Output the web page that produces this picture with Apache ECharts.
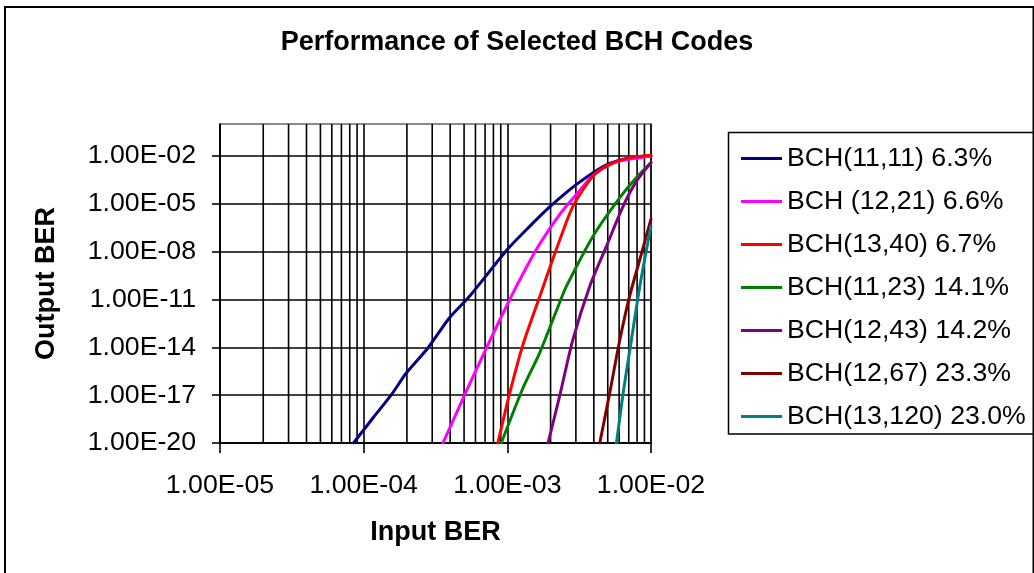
<!DOCTYPE html>
<html>
<head>
<meta charset="utf-8">
<script src="https://cdn.jsdelivr.net/npm/echarts@6/dist/echarts.min.js"></script>
<style>
  html, body { margin: 0; padding: 0; background: #ffffff; }
  #chart { width: 1034px; height: 573px; }
</style>
</head>
<body>
<div id="chart"></div>
<script>
// ---- Data: input BER (x) vs. output BER (y) for each BCH code ----
const seriesNames = [
  'BCH(11,11) 6.3%',
  'BCH (12,21) 6.6%',
  'BCH(13,40) 6.7%',
  'BCH(11,23) 14.1%',
  'BCH(12,43) 14.2%',
  'BCH(12,67) 23.3%',
  'BCH(13,120) 23.0%'
];
const seriesColors = ['#000080', '#FF00FF', '#FF0000', '#008000', '#800080', '#800000', '#008080'];

const bch11_11_in  = [8.5e-5, 1.16e-4, 1.56e-4, 1.98e-4, 2.8e-4, 3.96e-4, 5.46e-4, 1.0e-3, 1.43e-3, 1.97e-3, 2.58e-3, 3.03e-3, 3.95e-3, 5.16e-3, 6.7e-3, 1.0e-2];
const bch11_11_out = [1e-20, 3.7e-19, 1.07e-17, 2.45e-16, 9.1e-15, 7.1e-13, 1.6e-11, 1.35e-8, 3.8e-7, 6.3e-6, 5.2e-5, 1.64e-4, 8.9e-4, 3.4e-3, 6.7e-3, 1.05e-2];

const bch12_21_in  = [3.56e-4, 4.07e-4, 4.91e-4, 5.46e-4, 7.33e-4, 1.04e-3, 1.355e-3, 1.68e-3, 2.31e-3, 3.03e-3, 3.95e-3, 5.45e-3, 7.1e-3, 1.0e-2];
const bch12_21_out = [1e-20, 1.4e-19, 6.0e-18, 4.9e-17, 1.48e-14, 1.0e-11, 1.0e-9, 3.0e-8, 2.1e-6, 3.9e-5, 6.0e-4, 3.5e-3, 6.3e-3, 1.0e-2];

const bch13_40_in  = [8.59e-4, 1.04e-3, 1.285e-3, 1.68e-3, 2.08e-3, 2.31e-3, 2.86e-3, 3.95e-3, 5.16e-3, 7.1e-3, 1.0e-2];
const bch13_40_out = [1e-20, 1.38e-17, 1.48e-14, 1.5e-11, 3.7e-9, 5.0e-8, 6.8e-6, 5.5e-4, 2.95e-3, 7.8e-3, 1.05e-2];

const bch11_23_in  = [9.08e-4, 1.285e-3, 1.68e-3, 2.31e-3, 2.58e-3, 3.95e-3, 6.07e-3, 7.93e-3, 1.0e-2];
const bch11_23_out = [1e-20, 2.8e-17, 4.5e-15, 6.2e-12, 6.8e-11, 9.3e-8, 2.4e-5, 4.4e-4, 3.8e-3];

const bch12_43_in  = [1.92e-3, 2.31e-3, 2.86e-3, 3.75e-3, 4.9e-3, 6.4e-3, 7.93e-3, 1.0e-2];
const bch12_43_out = [1e-20, 8.5e-18, 3.0e-14, 6.8e-11, 2.2e-8, 7.1e-6, 2.6e-4, 3.8e-3];

const bch12_67_in  = [4.4e-3, 5.16e-3, 6.07e-3, 7.1e-3, 8.36e-3, 1.0e-2];
const bch12_67_out = [1e-20, 1.38e-17, 3.0e-14, 1.6e-11, 3.2e-9, 1.1e-6];

const bch13_120_in  = [5.75e-3, 6.4e-3, 7.31e-3, 8.36e-3, 1.0e-2];
const bch13_120_out = [1e-20, 1.38e-17, 3.0e-14, 6.8e-11, 4.0e-7];

// ---- Axis ranges and ticks ----
const xRange = [1e-5, 1e-2];
const yRange = [1e-20, 1];
const xTickValues = [1e-5, 1e-4, 1e-3, 1e-2];
const yTickValues = [1e-20, 1e-17, 1e-14, 1e-11, 1e-8, 1e-5, 1e-2];
// minor vertical grid lines (2..9 within each decade)
const xMinorGrid = [
  2e-5, 3e-5, 4e-5, 5e-5, 6e-5, 7e-5, 8e-5, 9e-5,
  2e-4, 3e-4, 4e-4, 5e-4, 6e-4, 7e-4, 8e-4, 9e-4,
  2e-3, 3e-3, 4e-3, 5e-3, 6e-3, 7e-3, 8e-3, 9e-3
];

const curves = [
  [bch11_11_in, bch11_11_out],
  [bch12_21_in, bch12_21_out],
  [bch13_40_in, bch13_40_out],
  [bch11_23_in, bch11_23_out],
  [bch12_43_in, bch12_43_out],
  [bch12_67_in, bch12_67_out],
  [bch13_120_in, bch13_120_out]
];

const FONT = '"Liberation Sans", Arial, Helvetica, sans-serif';
const FS = 26.7;
const GRID_W = 1.6;

// Excel-style scientific notation, e.g. 1.00E-05
function sci(v) {
  const e = Math.round(Math.log10(v));
  const m = v / Math.pow(10, e);
  const a = Math.abs(e);
  return m.toFixed(2) + 'E' + (e < 0 ? '-' : '+') + (a < 10 ? '0' + a : String(a));
}

// minor grid as one broken polyline: bottom-to-top at each minor value, gaps between
const minorGridData = [];
xMinorGrid.forEach(function (v) {
  minorGridData.push([v, yRange[0]], [v, yRange[1]], '-');
});

const series = [{
  name: 'minor-grid',
  type: 'line',
  data: minorGridData,
  connectNulls: false,
  showSymbol: false,
  symbol: 'none',
  silent: true,
  z: 1,
  lineStyle: { color: '#000000', width: GRID_W },
  emphasis: { disabled: true },
  tooltip: { show: false }
}];

curves.forEach(function (c, i) {
  series.push({
    name: seriesNames[i],
    type: 'line',
    data: c[0].map(function (x, k) { return [x, c[1][k]]; }),
    showSymbol: false,
    symbol: 'none',
    smooth: 0.25,
    clip: true,
    z: 3,
    lineStyle: { color: seriesColors[i], width: 3, join: 'round', cap: 'round' },
    itemStyle: { color: seriesColors[i] },
    emphasis: { disabled: true }
  });
});

const chart = echarts.init(document.getElementById('chart'), null, { renderer: 'canvas' });

chart.setOption({
  animation: false,
  backgroundColor: '#ffffff',
  textStyle: { fontFamily: FONT },
  title: {
    text: 'Performance of Selected BCH Codes',
    left: 'center',
    top: 29,
    padding: 0,
    textStyle: { fontFamily: FONT, fontSize: 27, fontWeight: 'bold', color: '#000000' }
  },
  legend: {
    orient: 'vertical',
    left: 741,
    top: 145,
    padding: 0,
    itemGap: 16,
    itemWidth: 41,
    itemHeight: 3,
    icon: 'rect',
    selectedMode: false,
    data: seriesNames,
    textStyle: { fontFamily: FONT, fontSize: FS, color: '#000000', lineHeight: 27 }
  },
  graphic: [
    {
      type: 'rect',
      silent: true,
      shape: { x: 5, y: 7, width: 1028.5, height: 620 },
      style: { fill: 'none', stroke: '#000000', lineWidth: 2 }
    },
    {
      type: 'rect',
      silent: true,
      shape: { x: 728.5, y: 132.5, width: 330, height: 301.5 },
      style: { fill: 'none', stroke: '#000000', lineWidth: 1.5 }
    }
  ],
  grid: {
    left: 220,
    top: 124,
    width: 431,
    height: 319,
    show: true,
    backgroundColor: '#ffffff',
    borderColor: '#8a8a8a',
    borderWidth: 2
  },
  xAxis: {
    type: 'log',
    logBase: 10,
    min: xRange[0],
    max: xRange[1],
    name: 'Input BER',
    nameLocation: 'middle',
    nameGap: 76,
    nameTextStyle: { fontFamily: FONT, fontSize: 27, fontWeight: 'bold', color: '#000000' },
    axisLine: { show: true, onZero: false, lineStyle: { color: '#000000', width: GRID_W } },
    axisTick: { show: true, inside: false, length: 10, customValues: xTickValues, lineStyle: { color: '#000000', width: GRID_W } },
    axisLabel: {
      show: true,
      customValues: xTickValues,
      margin: 29,
      hideOverlap: false,
      fontFamily: FONT,
      fontSize: FS,
      color: '#000000',
      formatter: function (v) { return sci(v); }
    },
    splitLine: { show: true, lineStyle: { color: '#000000', width: GRID_W } },
    minorTick: { show: false },
    minorSplitLine: { show: false }
  },
  yAxis: {
    type: 'log',
    logBase: 10,
    min: yRange[0],
    max: yRange[1],
    name: 'Output BER',
    nameLocation: 'middle',
    nameRotate: 90,
    nameGap: 160,
    nameTextStyle: { fontFamily: FONT, fontSize: 27, fontWeight: 'bold', color: '#000000' },
    axisLine: { show: true, onZero: false, lineStyle: { color: '#000000', width: GRID_W } },
    axisTick: { show: true, inside: false, length: 8, customValues: yTickValues, lineStyle: { color: '#000000', width: GRID_W } },
    axisLabel: {
      show: true,
      customValues: yTickValues,
      margin: 24,
      hideOverlap: false,
      fontFamily: FONT,
      fontSize: FS,
      color: '#000000',
      formatter: function (v) { return sci(v); }
    },
    splitLine: { show: true, lineStyle: { color: '#000000', width: GRID_W } },
    minorTick: { show: false },
    minorSplitLine: { show: false }
  },
  series: series
});
</script>
</body>
</html>
